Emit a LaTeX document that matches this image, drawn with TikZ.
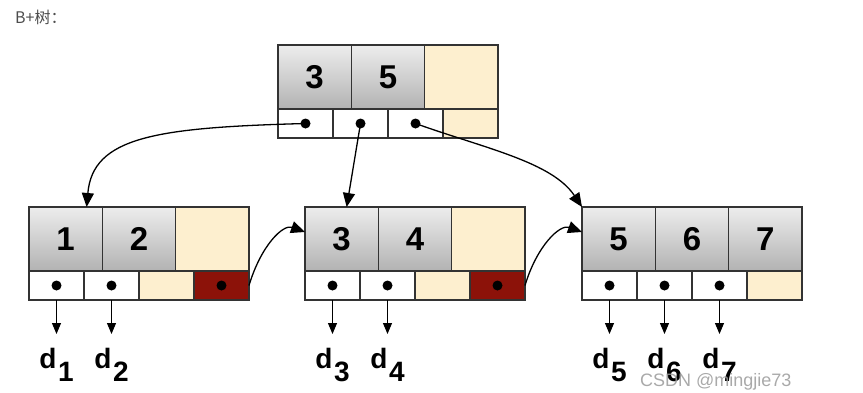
\documentclass[tikz,border=0pt]{standalone}
\usepackage{fontspec}
\setmainfont{Liberation Sans}
\newfontfamily\cjkfont{Noto Sans CJK SC}
\usepackage{tikz}
\usetikzlibrary{arrows.meta, positioning, calc}
\definecolor{keytop}{HTML}{EDEDED}
\definecolor{keybottom}{HTML}{B2B2B2}
\definecolor{spare}{HTML}{FDEFCF}
\definecolor{nextlink}{HTML}{8C1209}
\definecolor{edge}{HTML}{333333}
\definecolor{caption}{HTML}{4D4D4D}
\definecolor{wmgray}{HTML}{9A9A9A}
\tikzset{
  cell/.style={
    rectangle, draw=edge, line width=1.1pt,
    outer sep=0pt, inner sep=0pt,
  },
  keycell/.style={
    cell, minimum width=73.33pt, minimum height=64pt,
    font=\fontsize{33}{33}\selectfont\bfseries,
  },
  key/.style={keycell, top color=keytop, bottom color=keybottom},
  emptykey/.style={keycell, fill=spare},
  ptrcell/.style={cell, minimum width=55pt, minimum height=29pt},
  ptr/.style={
    ptrcell, fill=white,
    path picture={\fill[black] (path picture bounding box.center) circle (5pt);},
  },
  emptyptr/.style={ptrcell, fill=spare},
  nextptr/.style={
    ptrcell, fill=nextlink,
    path picture={\fill[black] (path picture bounding box.center) circle (5pt);},
  },
  treelink/.style={-{Triangle[length=14pt, width=12pt]}, line width=1.3pt},
  datalink/.style={-{Triangle[length=11pt, width=9pt]}, line width=1.1pt, shorten >=14pt},
  dlabel/.style={inner sep=0pt, font=\fontsize{28}{28}\selectfont\bfseries},
}
\newcommand{\dsub}[1]{d\kern1.5pt\raisebox{-13pt}{#1}}

\begin{document}
\begin{tikzpicture}[x=1pt, y=-1pt]
  \useasboundingbox (0,0) rectangle (863,392);

  \node[anchor=west, inner sep=0pt, text=caption, font=\cjkfont\fontsize{16}{16}\selectfont] (title) at (15,17) {B+树：};

  % root
  \node[key, anchor=north west] (r1) at (278,45) {3};
  \node[key, right=0pt of r1] (r2) {5};
  \node[emptykey, right=0pt of r2] (r3) {};
  \node[ptr, anchor=north west] (rp1) at (r1.south west) {};
  \node[ptr, right=0pt of rp1] (rp2) {};
  \node[ptr, right=0pt of rp2] (rp3) {};
  \node[emptyptr, right=0pt of rp3] (rp4) {};

  % leaves
  \node[key, anchor=north west] (a1) at (29,207) {1};
  \node[key, right=0pt of a1] (a2) {2};
  \node[emptykey, right=0pt of a2] (a3) {};
  \node[ptr, anchor=north west] (ap1) at (a1.south west) {};
  \node[ptr, right=0pt of ap1] (ap2) {};
  \node[emptyptr, right=0pt of ap2] (ap3) {};
  \node[nextptr, right=0pt of ap3] (ap4) {};

  \node[key, anchor=north west] (b1) at (305,207) {3};
  \node[key, right=0pt of b1] (b2) {4};
  \node[emptykey, right=0pt of b2] (b3) {};
  \node[ptr, anchor=north west] (bp1) at (b1.south west) {};
  \node[ptr, right=0pt of bp1] (bp2) {};
  \node[emptyptr, right=0pt of bp2] (bp3) {};
  \node[nextptr, right=0pt of bp3] (bp4) {};

  \node[key, anchor=north west] (c1) at (582,207) {5};
  \node[key, right=0pt of c1] (c2) {6};
  \node[key, right=0pt of c2] (c3) {7};
  \node[ptr, anchor=north west] (cp1) at (c1.south west) {};
  \node[ptr, right=0pt of cp1] (cp2) {};
  \node[ptr, right=0pt of cp2] (cp3) {};
  \node[emptyptr, right=0pt of cp3] (cp4) {};

  % data
  \node[dlabel, below=48pt of ap1] (d1) {\dsub{1}};
  \node[dlabel, below=48pt of ap2] (d2) {\dsub{2}};
  \node[dlabel, below=48pt of bp1] (d3) {\dsub{3}};
  \node[dlabel, below=48pt of bp2] (d4) {\dsub{4}};
  \node[dlabel, below=48pt of cp1] (d5) {\dsub{5}};
  \node[dlabel, below=48pt of cp2] (d6) {\dsub{6}};
  \node[dlabel, below=48pt of cp3] (d7) {\dsub{7}};

  \draw[treelink] (rp1.center) .. controls +(-150,4) and +(6,-70) .. ([xshift=21pt]a1.north);
  \draw[treelink] (rp2.center) -- ([xshift=5pt]b1.north);
  \draw[treelink] (rp3.center) .. controls +(70,25) and +(-30,-45) .. (c1.north west);
  \draw[treelink] (ap4.east) .. controls +(12,-40) and +(-22,-8) .. ([yshift=7pt]b1.west);
  \draw[treelink] (bp4.east) .. controls +(12,-40) and +(-22,-8) .. ([yshift=7pt]c1.west);

  \draw[datalink] (ap1.south) -- (d1.north);
  \draw[datalink] (ap2.south) -- (d2.north);
  \draw[datalink] (bp1.south) -- (d3.north);
  \draw[datalink] (bp2.south) -- (d4.north);
  \draw[datalink] (cp1.south) -- (d5.north);
  \draw[datalink] (cp2.south) -- (d6.north);
  \draw[datalink] (cp3.south) -- (d7.north);

  \node[anchor=base west, inner sep=0pt, text=wmgray, opacity=0.85, font=\fontsize{18}{18}\selectfont] (wm) at (640,386) {CSDN @mingjie73};

\end{tikzpicture}
\end{document}
